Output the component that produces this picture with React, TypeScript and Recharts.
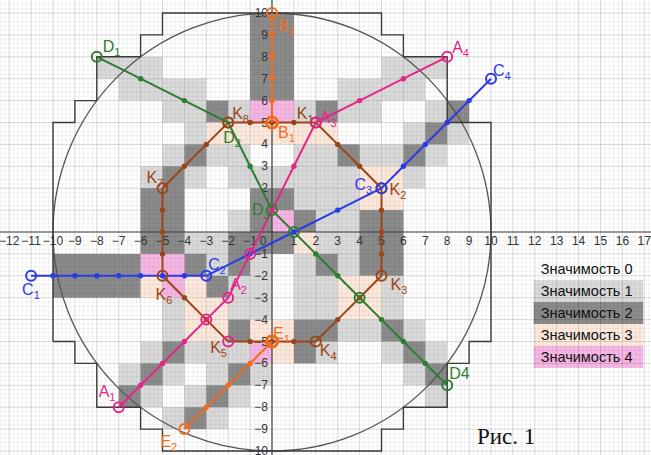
import React from "react";
import { ScatterChart, Scatter, XAxis, YAxis, ReferenceArea, ReferenceLine, ReferenceDot } from "recharts";

const W = 651;
const H = 455;
const UNIT = 21.9;
const X_MIN = -272 / UNIT;
const X_MAX = X_MIN + W / UNIT;
const Y_MAX = 232 / UNIT;
const Y_MIN = Y_MAX - H / UNIT;

type P = [number, number];
type N = [string, number, number];

// paths (vertices in grid units)
const pathK: P[] = [[2, 5], [3, 4], [4, 3], [5, 2], [5, 1], [5, 0], [5, -1], [5, -2], [4, -3], [3, -4], [2, -5], [1, -5], [0, -5], [-1, -5], [-2, -5], [-3, -4], [-4, -3], [-5, -2], [-5, -1], [-5, 0], [-5, 1], [-5, 2], [-4, 3], [-3, 4], [-2, 5], [-1, 5], [0, 5], [1, 5], [2, 5]];
const pathB: P[] = [[0, 10], [0, 9], [0, 8], [0, 7], [0, 6], [0, 5]];
const pathE: P[] = [[-4, -9], [-3, -8], [-2, -7], [-1, -6], [0, -5]];
const pathD: P[] = [[-8, 8], [-6, 7], [-4, 6], [-2, 5], [-1, 3], [0, 1], [1, 0], [2, -1], [3, -2], [4, -3], [5, -4], [6, -5], [7, -6], [8, -7]];
const pathC: P[] = [[-11, -2], [-10, -2], [-9, -2], [-8, -2], [-7, -2], [-6, -2], [-5, -2], [-4, -2], [-3, -2], [-1, -1], [1, 0], [3, 1], [5, 2], [6, 3], [7, 4], [8, 5], [9, 6], [10, 7]];
const pathA: P[] = [[-7, -8], [-6, -7], [-5, -6], [-4, -5], [-3, -4], [-2, -3], [-1, -1], [0, 1], [1, 3], [2, 5], [4, 6], [6, 7], [8, 8]];

const namedK: N[] = [["K1", 2, 5], ["K2", 5, 2], ["K3", 5, -2], ["K4", 2, -5], ["K5", -2, -5], ["K6", -5, -2], ["K7", -5, 2], ["K8", -2, 5]];
const namedB: N[] = [["B1", 0, 5], ["B2", 0, 10]];
const namedE: N[] = [["E1", 0, -5], ["E2", -4, -9]];
const namedD: N[] = [["D1", -8, 8], ["D2", -2, 5], ["D3", 0, 1], ["D4", 8, -7]];
const namedC: N[] = [["C1", -11, -2], ["C2", -3, -2], ["C3", 5, 2], ["C4", 10, 7]];
const namedA: N[] = [["A1", -7, -8], ["A2", -2, -3], ["A3", 2, 5], ["A4", 8, 8]];

const crossA: P[] = [[-1, -1], [-3, -4]];
const crossD: P[] = [[1, 0], [4, -3]];

// grid cells [u, v] = lower-left corner
const level1: P[] = [
  [-8, 7], [-7, 7], [-6, 7], [5, 7], [6, 7], [7, 7],
  [-7, 6], [-6, 6], [-5, 6], [-4, 6], [3, 6], [4, 6], [5, 6], [6, 6],
  [-5, 5], [-4, 5], [-2, 5], [1, 5], [3, 5], [4, 5], [7, 5],
  [-4, 4], [6, 4], [8, 4],
  [-5, 3], [-3, 3], [-2, 3], [1, 3], [2, 3], [4, 3], [5, 3], [7, 3],
  [-6, 2], [-4, 2], [-2, 2], [-1, 2], [0, 2], [1, 2], [2, 2], [3, 2], [6, 2],
  [1, 1], [2, 1], [3, 1],
  [-2, 0], [2, 0], [3, 0],
  [-4, -1], [-3, -1], [2, -1], [3, -1],
  [-3, -2], [-1, -2], [1, -2], [3, -2],
  [-2, -3], [-1, -3], [1, -3], [2, -3], [5, -3],
  [-5, -4], [-2, -4], [-1, -4], [1, -4], [2, -4], [5, -4],
  [-5, -5], [3, -5], [4, -5], [6, -5],
  [-6, -6], [-4, -6], [-3, -6], [-2, -6], [2, -6], [5, -6], [7, -6],
  [-7, -7], [-5, -7], [-3, -7], [-1, -7], [6, -7],
  [-6, -8], [-4, -8], [-2, -8], [7, -8],
  [-5, -9], [-3, -9],
];
const level2: P[] = [
  [-1, 9], [0, 9], [-1, 8], [0, 8], [-1, 7], [0, 7], [-1, 6], [0, 6],
  [-3, 5], [2, 5], [8, 5],
  [7, 4],
  [-4, 3], [3, 3], [6, 3],
  [-5, 2],
  [-6, 1], [-5, 1], [-1, 1], [0, 1],
  [-6, 0], [-5, 0], [-1, 0], [1, 0], [4, 0], [5, 0],
  [-6, -1], [-5, -1], [-2, -1], [-1, -1], [0, -1], [4, -1], [5, -1],
  [-10, -2], [-9, -2], [-8, -2], [-7, -2], [-4, -2], [-2, -2], [2, -2], [4, -2], [5, -2],
  [-10, -3], [-9, -3], [-8, -3], [-7, -3], [-3, -3],
  [-2, -5], [1, -5], [2, -5], [5, -5],
  [-5, -6], [1, -6], [6, -6],
  [-6, -7], [-2, -7], [7, -7],
  [-7, -8], [-3, -8],
  [-4, -9],
];
const level3: P[] = [
  [-3, 4], [-2, 4], [-1, 4], [0, 4], [1, 4], [2, 4],
  [4, 2], [5, 2], [4, 1], [5, 1],
  [1, -1],
  [-6, -3], [-4, -3], [3, -3], [4, -3],
  [-4, -4], [-3, -4], [3, -4], [4, -4],
  [-4, -5], [-3, -5], [-1, -5], [0, -5],
  [0, -6],
];
const level4: P[] = [[-1, 5], [0, 5], [0, 0], [-6, -2], [-5, -2], [-5, -3], [-1, -6]];

const outline: P[] = [[-10, -5], [-10, 5], [-9, 5], [-9, 6], [-8, 6], [-8, 8], [-6, 8], [-6, 9], [-5, 9], [-5, 10], [5, 10], [5, 9], [6, 9], [6, 8], [8, 8], [8, 5], [10, 5], [10, -5], [9, -5], [9, -6], [8, -6], [8, -8], [6, -8], [6, -9], [5, -9], [5, -10], [-5, -10], [-5, -9], [-6, -9], [-6, -8], [-8, -8], [-8, -6], [-9, -6], [-9, -5], [-10, -5]];

const legendLabels = ["Значимость 0", "Значимость 1", "Значимость 2", "Значимость 3", "Значимость 4"];

const xTicks = Array.from({ length: 30 }, (_, i) => i - 12);
// the "1" on the y axis sits under the D3 label in the reference
const yTicks = [-10, -9, -8, -7, -6, -5, -4, -3, -2, -1, 2, 3, 4, 5, 6, 7, 8, 9, 10];

// styles
const LEVEL_FILL = ["#ffffff", "#dadada", "#8b8b8b", "#fde9dc", "#f6b6e4"];
const COL = { K: "#9c4519", B: "#f26b1d", D: "#2f7d32", C: "#2a3be6", A: "#e5258c" };
const FONT = "Liberation Sans, Arial, sans-serif";

const LABEL_OFFSET: Record<string, [number, number]> = {
  D1: [6, -5], B2: [6, 18], B1: [6, 15], K8: [4, -4], K1: [-19, -4], A3: [4, 0],
  D2: [-5, 20], A4: [5, -4], C4: [2, -3], C3: [-27, 2], K2: [8, 7], K7: [-16, -5],
  D3: [-20, 5], C2: [2, -6], C1: [-9, 19], K6: [-7, 24], A2: [2, -8], K3: [9, 14],
  K5: [-18, 11], E1: [1, -3], K4: [4, 14], A1: [-20, -10], E2: [-24, 18], D4: [2, -6],
};
const RING_OVERRIDE: Record<string, string> = { K5: COL.A };

const toPts = (p: P[]) => p.map(([x, y]) => ({ x, y }));
const key = (x: number, y: number) => x + ":" + y;

function dotsOf(path: P[], named: N[], cross: P[] = []) {
  const skip = new Set([...named.map((n) => key(n[1], n[2])), ...cross.map((c) => key(c[0], c[1]))]);
  return path.filter(([x, y]) => !skip.has(key(x, y))).map(([x, y]) => ({ x, y }));
}

const fmt = (v: number) => (v < 0 ? "\u2212" + -v : String(v));

const majorX = Array.from({ length: 30 }, (_, i) => i - 12);
const majorY = Array.from({ length: 21 }, (_, i) => i - 10);
const minorX = Array.from({ length: 149 }, (_, i) => i - 62).filter((k) => k % 5 !== 0).map((k) => k / 5);
const minorY = Array.from({ length: 105 }, (_, i) => i - 51).filter((k) => k % 5 !== 0).map((k) => k / 5);

function cells(list: P[], level: number) {
  return list.map(([u, v]) => (
    <ReferenceArea key={"c" + level + key(u, v)} x1={u} x2={u + 1} y1={v} y2={v + 1} fill={LEVEL_FILL[level]} fillOpacity={1} stroke="none" ifOverflow="visible" />
  ));
}

function pathSeries(id: string, path: P[], named: N[], color: string, cross: P[] = []) {
  return [
    <Scatter key={id + "l"} data={toPts(path)} line={{ stroke: color, strokeWidth: 2 }} lineType="joint" shape={() => <g />} isAnimationActive={false} />,
    <Scatter key={id + "d"} data={dotsOf(path, named, cross)} shape={(p: any) => <circle cx={p.cx} cy={p.cy} r={2.7} fill={color} />} isAnimationActive={false} />,
  ];
}

function rings(id: string, named: N[], color: string) {
  const data = named.map(([name, x, y]) => ({ name, x, y }));
  return (
    <Scatter
      key={id + "r"}
      data={data}
      isAnimationActive={false}
      shape={(p: any) => {
        const n = p.payload.name as string;
        const big = n === "B1" || n === "E1";
        return <circle cx={p.cx} cy={p.cy} r={big ? 5.5 : 5} fill="none" stroke={RING_OVERRIDE[n] ?? color} strokeWidth={big ? 3.2 : 2} />;
      }}
    />
  );
}

function labels(id: string, named: N[], color: string) {
  const data = named.map(([name, x, y]) => ({ name, x, y }));
  return (
    <Scatter
      key={id + "t"}
      data={data}
      isAnimationActive={false}
      shape={(p: any) => {
        const n = p.payload.name as string;
        const [dx, dy] = LABEL_OFFSET[n] ?? [6, -6];
        const plain = n === "D4";
        return (
          <text x={p.cx + dx} y={p.cy + dy} fill={color} fontSize={16} fontFamily={FONT}>
            {plain ? n : n[0]}
            {plain ? null : <tspan fontSize={11} dy={4}>{n.slice(1)}</tspan>}
          </text>
        );
      }}
    />
  );
}

function crossRings(id: string, pts: P[], color: string) {
  return (
    <Scatter key={id} data={toPts(pts)} isAnimationActive={false} shape={(p: any) => <circle cx={p.cx} cy={p.cy} r={5} fill="none" stroke={color} strokeWidth={2} />} />
  );
}

export default function App() {
  return (
    <div style={{ position: "absolute", left: 0, top: 0, width: W, height: H, background: "#fff" }}>
      <ScatterChart width={W} height={H} margin={{ top: 0, right: 0, bottom: 0, left: 0 }}>
        <XAxis type="number" dataKey="x" domain={[X_MIN, X_MAX]} allowDataOverflow hide />
        <YAxis type="number" dataKey="y" domain={[Y_MIN, Y_MAX]} allowDataOverflow hide />

        {cells(level1, 1)}
        {cells(level2, 2)}
        {cells(level3, 3)}
        {cells(level4, 4)}

        {legendLabels.map((t, i) => (
          <ReferenceArea
            key={"lg" + i}
            x1={11.95}
            x2={16.95}
            y1={-1.2 - i}
            y2={-2.2 - i}
            fill={LEVEL_FILL[i]}
            fillOpacity={1}
            stroke="none"
            ifOverflow="visible"
            label={{ value: t, position: "insideLeft", offset: 7, fill: "#111", fontSize: 14.5, fontFamily: FONT }}
          />
        ))}

        {minorX.map((v) => <ReferenceLine key={"mx" + v} x={v} stroke="#000" strokeOpacity={0.05} strokeWidth={1} />)}
        {minorY.map((v) => <ReferenceLine key={"my" + v} y={v} stroke="#000" strokeOpacity={0.05} strokeWidth={1} />)}
        {majorX.map((v) => <ReferenceLine key={"Mx" + v} x={v} stroke="#000" strokeOpacity={0.15} strokeWidth={1} />)}
        {majorY.map((v) => <ReferenceLine key={"My" + v} y={v} stroke="#000" strokeOpacity={0.15} strokeWidth={1} />)}

        <ReferenceLine x={0} stroke="#444" strokeWidth={1.2} />
        <ReferenceLine y={0} stroke="#444" strokeWidth={1.2} />

        <ReferenceDot x={0} y={0} r={10 * UNIT} fill="none" stroke="#555" strokeWidth={1.3} ifOverflow="visible" />
        <Scatter data={toPts(outline)} line={{ stroke: "#3a3a3a", strokeWidth: 1.4 }} lineType="joint" shape={() => <g />} isAnimationActive={false} />

        <Scatter
          data={xTicks.map((x) => ({ x, y: 0 }))}
          isAnimationActive={false}
          shape={(p: any) => (
            <text x={p.cx + (p.payload.x === 0 ? -9 : 0)} y={p.cy + 13} textAnchor="middle" fontSize={12} fill="#333" fontFamily={FONT}>
              {fmt(p.payload.x)}
            </text>
          )}
        />
        <Scatter
          data={yTicks.map((y) => ({ x: 0, y }))}
          isAnimationActive={false}
          shape={(p: any) => (
            <text x={p.cx - 4} y={p.cy + 4} textAnchor="end" fontSize={12} fill="#333" fontFamily={FONT}>
              {fmt(p.payload.y)}
            </text>
          )}
        />

        {pathSeries("K", pathK, namedK, COL.K)}
        {pathSeries("B", pathB, namedB, COL.B)}
        {pathSeries("E", pathE, namedE, COL.B)}
        {pathSeries("D", pathD, namedD, COL.D, crossD)}
        {pathSeries("C", pathC, namedC, COL.C)}
        {pathSeries("A", pathA, namedA, COL.A, crossA)}

        {rings("D", namedD, COL.D)}
        {rings("K", namedK, COL.K)}
        {rings("C", namedC, COL.C)}
        {rings("A", namedA, COL.A)}
        {rings("B", namedB, COL.B)}
        {rings("E", namedE, COL.B)}
        {crossRings("xa", crossA, COL.A)}
        {crossRings("xd", crossD, COL.D)}

        {labels("Kt", namedK, COL.K)}
        {labels("Bt", namedB, COL.B)}
        {labels("Et", namedE, COL.B)}
        {labels("Dt", namedD, COL.D)}
        {labels("Ct", namedC, COL.C)}
        {labels("At", namedA, COL.A)}
      </ScatterChart>
      <div style={{ position: "absolute", left: 477, top: 425, fontFamily: "Liberation Serif, serif", fontSize: 23, lineHeight: "23px", color: "#111" }}>
        Рис. 1
      </div>
    </div>
  );
}
